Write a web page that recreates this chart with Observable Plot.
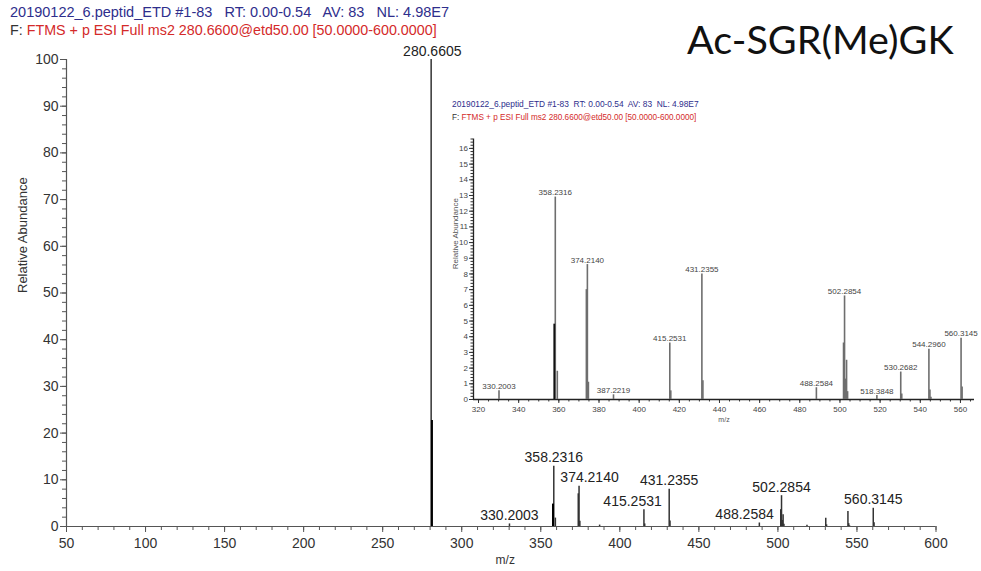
<!DOCTYPE html>
<html><head><meta charset="utf-8">
<script src="https://cdn.jsdelivr.net/npm/d3@7"></script>
<script src="https://cdn.jsdelivr.net/npm/@observablehq/plot@0.6"></script>
<style>
body{margin:0;background:#fff;}
#wrap{position:relative;width:981px;height:571px;overflow:hidden;font-family:"Liberation Sans",Arial,sans-serif;background:#fff;}
.abs{position:absolute;white-space:pre;}
#main,#inset{position:absolute;}
#main{left:0;top:0;}
#inset{left:440px;top:130px;}
</style></head><body>
<div id="wrap">
  <div id="main"></div>
  <div id="inset"></div>
  <div class="abs" style="left:10px;top:4px;font-size:14.5px;line-height:17px;color:#2e2e8c;">20190122_6.peptid_ETD #1-83   RT: 0.00-0.54   AV: 83   NL: 4.98E7</div>
  <div class="abs" style="left:10px;top:22px;font-size:14.3px;line-height:17px;color:#d42a2a;"><span style="color:#333">F: </span>FTMS + p ESI Full ms2 280.6600@etd50.00 [50.0000-600.0000]</div>
  <div class="abs" style="left:687px;top:16px;font-family:Lato,'Open Sans',sans-serif;font-size:39.5px;line-height:46px;color:#111;">Ac-SGR(Me)GK</div>
  <div class="abs" style="left:452px;top:98px;font-size:8.4px;line-height:13px;color:#2e2e8c;">20190122_6.peptid_ETD #1-83  RT: 0.00-0.54  AV: 83  NL: 4.98E7</div>
  <div class="abs" style="left:452px;top:111px;font-size:8.2px;line-height:13px;color:#d42a2a;"><span style="color:#333">F: </span>FTMS + p ESI Full ms2 280.6600@etd50.00 [50.0000-600.0000]</div>
</div>
<script>
// ---- data (m/z, relative abundance) ----
const peakMz  = [280.6605, 281.1620, 330.2003, 357.7300, 358.2316, 359.2350, 373.7100, 374.2140, 374.7200, 387.2219,
                 415.2531, 415.7500, 431.2355, 431.7400, 488.2584, 501.7800, 502.2854, 502.7900, 503.2900, 503.8000,
                 518.3848, 530.2682, 530.7700, 544.2960, 544.8000, 545.3000, 560.3145, 560.8200];
const peakInt = [100, 22.7, 0.55, 4.8, 12.9, 1.8, 7.0, 8.6, 1.1, 0.3,
                 3.6, 0.55, 8.0, 1.2, 0.75, 3.6, 6.6, 1.3, 2.5, 0.5,
                 0.25, 1.75, 0.35, 3.2, 0.6, 0.15, 3.9, 0.8];
const peakLayer = ["profile","overlay","profile","overlay","profile","profile","profile","profile","profile","profile",
                   "profile","profile","profile","profile","profile","profile","profile","profile","profile","profile",
                   "profile","profile","profile","profile","profile","profile","profile","profile"];

// labelled peaks in the full spectrum and where each label is centred (m/z)
const mainLabelMz = [280.6605, 358.2316, 374.2140, 330.2003, 415.2531, 431.2355, 488.2584, 502.2854, 560.3145];
const mainLabelAt = [281.4, 358.2316, 380.85, 330.2003, 408.05, 431.2355, 478.9, 502.2854, 560.3145];
// labelled peaks in the zoomed inset
const insetLabelMz = [330.2003, 358.2316, 374.2140, 387.2219, 415.2531, 431.2355, 488.2584, 502.2854, 518.3848, 530.2682, 544.2960, 560.3145];

// ticks
const mainXMajor = d3.range(50, 601, 50);
const mainXMinor = d3.range(50, 601, 10);
const mainYMajor = d3.range(0, 101, 10);
const mainYMinor = d3.range(0, 101, 2);
const insetXMajor = d3.range(320, 561, 20);
const insetXMinor = d3.range(320, 566, 5);
const insetYMajor = d3.range(0, 17, 1);
const insetYMinor = d3.range(0, 16.61, 0.2);

const peaks = peakMz.map((mz, i) => ({mz, int: peakInt[i], layer: peakLayer[i]}));
const intOf = mz => peaks.find(p => Math.abs(p.mz - mz) < 1e-6).int;
const fmt = d3.format(".4f");
const font = "'Liberation Sans', Arial, sans-serif";
const axisCol = "#555";

// ---- main spectrum ----
const main = Plot.plot({
  width: 981, height: 571,
  marginLeft: 66, marginRight: 45.5, marginTop: 59, marginBottom: 45,
  style: {background: "transparent", fontFamily: font, fontSize: "14px", color: "#222", overflow: "visible"},
  x: {domain: [50, 600]},
  y: {domain: [0, 100]},
  marks: [
    Plot.axisX(mainXMinor, {anchor: "bottom", tickSize: 4, fill: "none", stroke: axisCol}),
    Plot.axisX(mainXMajor, {anchor: "bottom", tickSize: 6, tickPadding: 6, stroke: axisCol, fill: "#333", fontSize: 14, label: null}),
    Plot.axisY(mainYMinor, {anchor: "left", tickSize: 4, fill: "none", stroke: axisCol}),
    Plot.axisY(mainYMajor, {anchor: "left", tickSize: 6, tickPadding: 2, stroke: axisCol, fill: "#333", fontSize: 14, label: null}),
    Plot.ruleY([0], {stroke: axisCol, strokeWidth: 1.2}),
    Plot.ruleX([50], {stroke: axisCol, strokeWidth: 1.2}),
    Plot.ruleX(peaks.filter(p => p.layer === "profile"), {x: "mz", y1: 0, y2: "int", stroke: "#333", strokeWidth: 1.5}),
    Plot.ruleX(peaks.filter(p => p.layer === "overlay"), {x: "mz", y1: 0, y2: "int", stroke: "#000", strokeWidth: 2}),
    Plot.text(d3.range(mainLabelMz.length), {
      x: i => mainLabelAt[i], y: i => intOf(mainLabelMz[i]), text: i => fmt(mainLabelMz[i]),
      lineAnchor: "bottom", dy: -4, fontSize: 14, fill: "#222"
    }),
    Plot.text(["m/z"], {frameAnchor: "bottom", dy: 37, dx: 4, fontSize: 12, fill: "#333"}),
    Plot.text(["Relative Abundance"], {frameAnchor: "left", dx: -44, rotate: -90, fontSize: 13, fill: "#333"})
  ]
});
document.getElementById("main").appendChild(main);

// ---- inset (zoomed region) ----
const inset = Plot.plot({
  width: 541, height: 295,
  marginLeft: 33, marginRight: 7, marginTop: 8.5, marginBottom: 26,
  style: {background: "transparent", fontFamily: font, fontSize: "8px", color: "#333", overflow: "visible"},
  x: {domain: [317.5, 567]},
  y: {domain: [0, 16.6]},
  marks: [
    Plot.axisX(insetXMinor, {anchor: "bottom", tickSize: 2.5, fill: "none", stroke: "#333"}),
    Plot.axisX(insetXMajor, {anchor: "bottom", tickSize: 4, tickPadding: 3, stroke: "#333", fill: "#444", fontSize: 8, label: null}),
    Plot.axisY(insetYMinor, {anchor: "left", tickSize: 2.5, fill: "none", stroke: "#333"}),
    Plot.axisY(insetYMajor, {anchor: "left", tickSize: 4, tickPadding: 1.5, stroke: "#333", fill: "#444", fontSize: 8, label: null}),
    Plot.ruleY([0], {stroke: "#222", strokeWidth: 1.3}),
    Plot.ruleX([317.5], {stroke: "#222", strokeWidth: 1.3}),
    Plot.ruleX(peaks.filter(p => p.mz > 317.5 && p.layer === "profile"), {x: "mz", y1: 0, y2: "int", stroke: "#6e6e6e", strokeWidth: 1.6}),
    Plot.ruleX(peaks.filter(p => p.mz > 317.5 && p.layer === "overlay"), {x: "mz", y1: 0, y2: "int", stroke: "#111", strokeWidth: 1.8}),
    Plot.text(insetLabelMz, {
      x: d => d, y: d => intOf(d), text: d => fmt(d),
      lineAnchor: "bottom", dy: -2, fontSize: 8, fill: "#444"
    }),
    Plot.text(["m/z"], {frameAnchor: "bottom", dy: 22, fontSize: 7, fill: "#555"}),
    Plot.text(["Relative Abundance"], {frameAnchor: "left", dx: -18, rotate: -90, fontSize: 8, fill: "#555"})
  ]
});
document.getElementById("inset").appendChild(inset);
</script>
</body></html>
